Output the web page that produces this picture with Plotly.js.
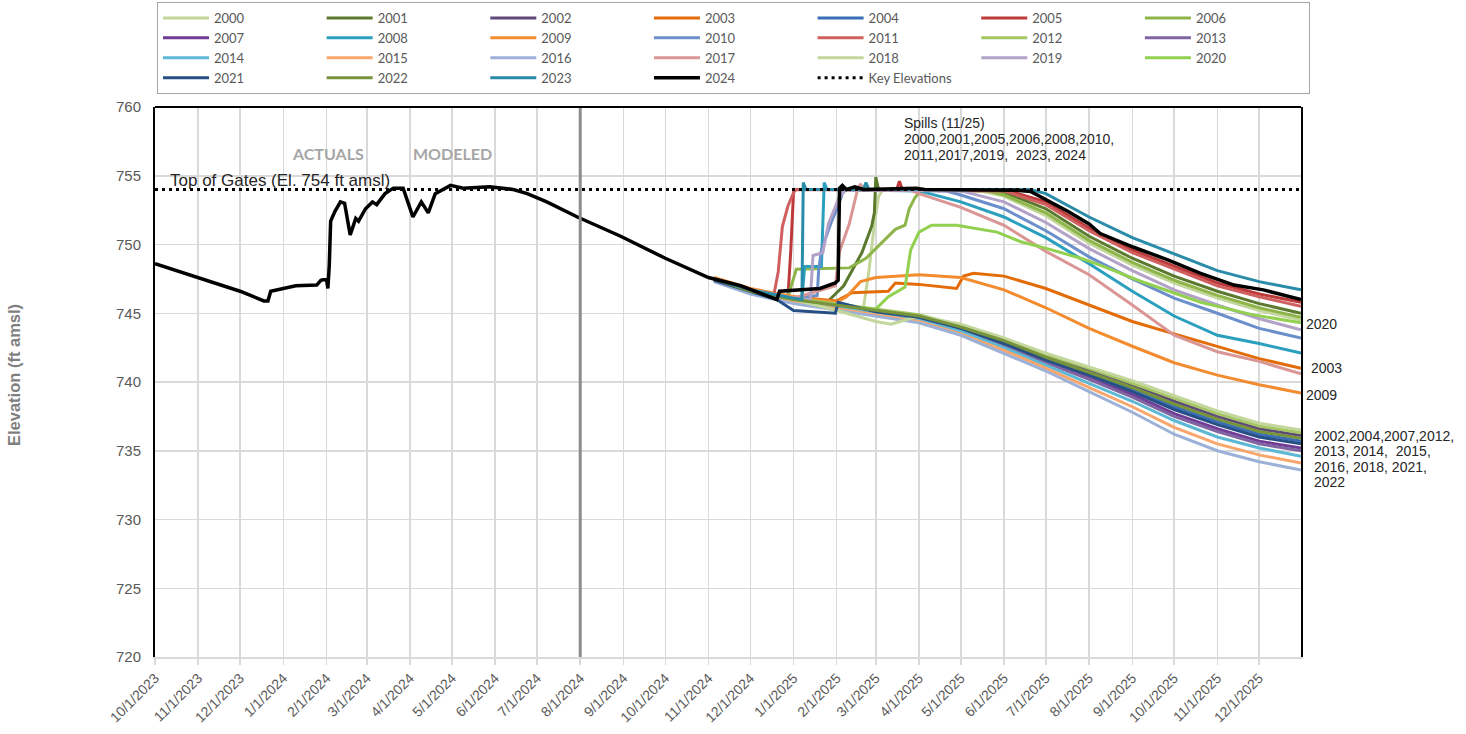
<!DOCTYPE html>
<html><head><meta charset="utf-8">
<script src="https://cdn.plot.ly/plotly-3.0.1.min.js"></script>
<style>html,body{margin:0;padding:0;background:#fff}#chart{width:1466px;height:734px}</style>
</head><body><div id="chart"></div>
<script>
// ---------- DATA ----------
const years = ['2000','2001','2002','2003','2004','2005','2006','2007','2008','2009','2010','2011','2012','2013','2014','2015','2016','2017','2018','2019','2020','2021','2022','2023','2024'];

const lowDates = ['2024-11-05','2024-12-01','2025-01-01','2025-02-01','2025-03-01','2025-04-01','2025-05-01','2025-06-01','2025-07-01','2025-08-01','2025-09-01','2025-10-01','2025-11-01','2025-12-01','2025-12-31'];

const d2000 = ['2024-11-05','2024-12-01','2025-01-01','2025-02-01','2025-02-20','2025-02-24','2025-02-28','2025-03-03','2025-03-06','2025-05-15','2025-06-01','2025-07-01','2025-08-01','2025-09-01','2025-10-01','2025-11-01','2025-12-01','2025-12-31'];
const v2000 = [747.5,746.6,746.0,745.5,745.3,748.0,751.5,753.5,754.0,753.9,753.5,752.1,750.1,748.5,747.2,746.1,745.2,744.5];

const d2001 = ['2024-11-05','2024-12-01','2025-01-01','2025-01-25','2025-02-06','2025-02-19','2025-02-26','2025-02-28','2025-03-01','2025-03-03','2025-05-25','2025-06-01','2025-07-01','2025-08-01','2025-09-01','2025-10-01','2025-11-01','2025-12-01','2025-12-31'];
const v2001 = [747.5,746.7,746.1,745.8,747.0,749.4,751.3,752.3,754.9,754.0,754.0,753.8,752.6,750.6,749.0,747.7,746.6,745.7,745.0];

const v2002 = [747.5,746.7,746.0,745.6,745.2,744.8,744.1,743.1,741.9,740.9,739.8,738.6,737.5,736.6,736.1];

const d2003 = ['2024-11-05','2024-12-01','2025-01-01','2025-02-01','2025-02-12','2025-03-10','2025-03-15','2025-04-01','2025-04-28','2025-05-03','2025-05-10','2025-06-01','2025-07-01','2025-08-01','2025-09-01','2025-10-01','2025-11-01','2025-12-01','2025-12-31'];
const v2003 = [747.5,746.7,746.2,745.9,746.5,746.6,747.2,747.1,746.8,747.7,747.9,747.7,746.8,745.6,744.4,743.5,742.6,741.7,741.0];

const v2004 = [747.4,746.6,746.0,745.6,745.2,744.7,744.0,742.9,741.7,740.6,739.5,738.2,737.1,736.2,735.7];

const d2005 = ['2024-11-05','2024-12-01','2024-12-28','2024-12-30','2025-01-01','2025-01-03','2025-03-16','2025-03-18','2025-03-20','2025-06-01','2025-07-01','2025-08-01','2025-09-01','2025-10-01','2025-11-01','2025-12-01','2025-12-31'];
const v2005 = [747.5,746.7,746.2,749.5,753.8,754.0,754.0,754.6,754.0,754.0,753.1,751.2,749.6,748.4,747.2,746.4,745.8];

const d2006 = ['2024-11-05','2024-12-01','2024-12-28','2025-01-03','2025-02-10','2025-02-22','2025-03-03','2025-03-15','2025-03-22','2025-03-25','2025-03-29','2025-04-03','2025-05-20','2025-06-01','2025-07-01','2025-08-01','2025-09-01','2025-10-01','2025-11-01','2025-12-01','2025-12-31'];
const v2006 = [747.5,746.7,746.2,748.2,748.3,749.0,749.9,751.1,751.4,752.6,753.4,754.0,753.9,753.6,752.3,750.3,748.7,747.4,746.3,745.4,744.7];

const v2007 = [747.4,746.6,745.9,745.5,745.1,744.6,743.8,742.7,741.5,740.3,739.1,737.7,736.6,735.7,735.2];

const d2008 = ['2024-11-05','2024-12-01','2025-01-01','2025-01-07','2025-01-09','2025-01-21','2025-01-23','2025-01-25','2025-04-01','2025-05-01','2025-06-01','2025-07-01','2025-08-01','2025-09-01','2025-10-01','2025-11-01','2025-12-01','2025-12-31'];
const v2008 = [747.5,746.7,746.1,746.0,748.4,748.4,754.5,754.0,753.9,753.1,752.0,750.5,748.6,746.6,744.8,743.4,742.8,742.1];

const d2009 = ['2024-11-05','2024-12-01','2025-01-01','2025-02-01','2025-02-08','2025-02-18','2025-03-01','2025-04-01','2025-05-01','2025-06-01','2025-07-01','2025-08-01','2025-09-01','2025-10-01','2025-11-01','2025-12-01','2025-12-31'];
const v2009 = [747.6,746.8,746.2,745.8,746.2,747.3,747.6,747.8,747.6,746.7,745.4,743.9,742.6,741.4,740.5,739.8,739.2];

const d2010 = ['2024-11-05','2024-12-01','2025-01-01','2025-01-18','2025-01-19','2025-01-21','2025-01-28','2025-02-02','2025-02-06','2025-04-20','2025-05-01','2025-06-01','2025-07-01','2025-08-01','2025-09-01','2025-10-01','2025-11-01','2025-12-01','2025-12-31'];
const v2010 = [747.5,746.7,746.1,746.3,748.1,749.6,751.6,752.8,754.0,753.9,753.6,752.6,751.0,749.1,747.5,746.1,745.0,743.9,743.2];

const d2011 = ['2024-11-05','2024-12-01','2024-12-18','2024-12-21','2024-12-24','2024-12-28','2025-01-02','2025-06-01','2025-07-01','2025-08-01','2025-09-01','2025-10-01','2025-11-01','2025-12-01','2025-12-31'];
const v2011 = [747.5,746.7,746.4,748.0,751.3,752.8,754.0,753.9,752.9,751.0,749.4,748.2,747.0,746.2,745.5];

const v2012 = [747.5,746.7,746.1,745.7,745.3,744.9,744.1,743.1,742.0,741.0,739.9,738.8,737.7,736.8,736.3];
const v2013 = [747.4,746.5,745.9,745.4,745.0,744.6,743.8,742.6,741.4,740.2,738.9,737.5,736.4,735.5,735.0];
const v2014 = [747.4,746.5,745.8,745.4,745.0,744.5,743.7,742.5,741.2,739.9,738.6,737.2,736.0,735.2,734.6];
const v2015 = [747.3,746.5,745.8,745.3,744.9,744.4,743.5,742.3,741.0,739.6,738.2,736.7,735.5,734.7,734.1];
const v2016 = [747.3,746.4,745.7,745.2,744.8,744.3,743.4,742.1,740.8,739.3,737.8,736.2,735.0,734.2,733.6];

const d2017 = ['2024-11-05','2024-12-01','2025-01-01','2025-01-31','2025-02-03','2025-02-10','2025-02-14','2025-02-16','2025-02-18','2025-02-20','2025-03-25','2025-04-01','2025-05-01','2025-06-01','2025-07-01','2025-08-01','2025-09-01','2025-10-01','2025-11-01','2025-12-01','2025-12-31'];
const v2017 = [747.5,746.7,746.1,747.0,749.5,751.5,753.2,754.0,754.4,754.0,754.0,753.7,752.7,751.4,749.5,747.8,745.6,743.4,742.2,741.5,740.6];

const d2018 = ['2024-11-05','2024-12-01','2025-01-01','2025-02-01','2025-03-01','2025-03-12','2025-04-01','2025-05-01','2025-06-01','2025-07-01','2025-08-01','2025-09-01','2025-10-01','2025-11-01','2025-12-01','2025-12-31'];
const v2018 = [747.5,746.6,746.0,745.2,744.4,744.2,744.8,744.2,743.2,742.1,741.1,740.1,739.0,737.9,737.0,736.5];

const d2019 = ['2024-11-05','2024-12-01','2025-01-01','2025-01-13','2025-01-15','2025-01-22','2025-01-26','2025-02-03','2025-02-08','2025-05-01','2025-06-01','2025-07-01','2025-08-01','2025-09-01','2025-10-01','2025-11-01','2025-12-01','2025-12-31'];
const v2019 = [747.5,746.7,746.1,746.0,749.2,749.4,751.5,753.5,754.0,753.9,753.1,751.6,749.7,748.1,746.7,745.6,744.6,743.8];

const d2020 = ['2024-11-05','2024-12-01','2025-01-01','2025-02-01','2025-03-01','2025-03-10','2025-03-22','2025-03-26','2025-04-01','2025-04-10','2025-04-28','2025-05-27','2025-06-13','2025-07-02','2025-07-26','2025-08-09','2025-09-05','2025-10-20','2025-11-26','2025-12-31'];
const v2020 = [747.5,746.6,746.0,745.6,745.3,746.2,746.9,749.6,750.9,751.4,751.4,750.9,750.2,749.7,749.0,748.5,747.4,745.8,744.9,744.3];

const d2021 = ['2024-11-05','2024-12-01','2024-12-20','2025-01-01','2025-01-31','2025-02-02','2025-03-01','2025-04-01','2025-05-01','2025-06-01','2025-07-01','2025-08-01','2025-09-01','2025-10-01','2025-11-01','2025-12-01','2025-12-31'];
const v2021 = [747.4,746.6,746.0,745.2,745.0,745.8,745.1,744.7,743.9,742.8,741.6,740.5,739.3,738.0,736.9,736.0,735.5];

const v2022 = [747.5,746.6,746.0,745.6,745.2,744.8,744.0,743.0,741.8,740.7,739.6,738.4,737.3,736.4,735.9];

const d2023 = ['2024-11-05','2024-12-01','2025-01-01','2025-01-07','2025-01-08','2025-01-10','2025-02-20','2025-02-22','2025-02-24','2025-06-20','2025-07-01','2025-08-01','2025-09-01','2025-10-01','2025-11-01','2025-12-01','2025-12-31'];
const v2023 = [747.5,746.7,746.1,746.0,754.5,754.0,754.0,754.5,754.0,754.0,753.7,752.0,750.5,749.3,748.1,747.3,746.7];

const d2024 = ['2023-10-01','2023-11-01','2023-12-01','2023-12-18','2023-12-21','2023-12-23','2024-01-01','2024-01-10','2024-01-25','2024-01-28','2024-02-01','2024-02-02','2024-02-03','2024-02-04','2024-02-07','2024-02-11','2024-02-14','2024-02-18','2024-02-22','2024-02-24','2024-02-29','2024-03-05','2024-03-08','2024-03-14','2024-03-20','2024-03-27','2024-04-03','2024-04-09','2024-04-14','2024-04-19','2024-04-30','2024-05-09','2024-05-28','2024-06-14','2024-06-24','2024-07-08','2024-07-30','2024-08-30','2024-10-01','2024-11-01','2024-11-24','2024-12-20','2024-12-22','2025-01-20','2025-01-31','2025-02-02','2025-02-03','2025-02-05','2025-02-08','2025-02-14','2025-02-20','2025-03-30','2025-04-05','2025-06-10','2025-06-20','2025-07-17','2025-08-01','2025-08-09','2025-09-02','2025-09-26','2025-10-20','2025-11-13','2025-12-04','2025-12-31'];
const v2024 = [748.6,747.6,746.6,745.9,745.9,746.6,746.8,747.0,747.05,747.4,747.5,746.8,748.5,751.7,752.4,753.1,753.0,750.7,751.9,751.7,752.6,753.1,752.9,753.7,754.1,754.1,752.0,753.1,752.3,753.7,754.3,754.1,754.2,754.0,753.7,753.1,752.0,750.6,749.0,747.6,747.0,746.0,746.6,746.8,747.2,747.4,754.1,754.3,754.0,754.2,754.0,754.1,754.0,753.95,753.85,752.4,751.5,750.8,749.8,748.9,747.9,747.05,746.7,746.0];

const keyDates = ['2023-10-01','2025-12-31'];
const keyElev = [754, 754];
const dividerDate = '2024-08-01';

const spillLines = ['Spills (11/25)', '2000,2001,2005,2006,2008,2010,', '2011,2017,2019,  2023, 2024'];
const lowLabelLines = ['2002,2004,2007,2012,', '2013, 2014,  2015,', '2016, 2018, 2021,', '2022'];

const seriesDates = {
  '2000': d2000, '2001': d2001, '2002': lowDates, '2003': d2003, '2004': lowDates, '2005': d2005,
  '2006': d2006, '2007': lowDates, '2008': d2008, '2009': d2009, '2010': d2010, '2011': d2011,
  '2012': lowDates, '2013': lowDates, '2014': lowDates, '2015': lowDates, '2016': lowDates,
  '2017': d2017, '2018': d2018, '2019': d2019, '2020': d2020, '2021': d2021, '2022': lowDates,
  '2023': d2023, '2024': d2024
};
const seriesValues = {
  '2000': v2000, '2001': v2001, '2002': v2002, '2003': v2003, '2004': v2004, '2005': v2005,
  '2006': v2006, '2007': v2007, '2008': v2008, '2009': v2009, '2010': v2010, '2011': v2011,
  '2012': v2012, '2013': v2013, '2014': v2014, '2015': v2015, '2016': v2016,
  '2017': v2017, '2018': v2018, '2019': v2019, '2020': v2020, '2021': v2021, '2022': v2022,
  '2023': v2023, '2024': v2024
};

// ---------- STYLE ----------
const colors = {
  '2000':'#C3D69B','2001':'#5B7A2E','2002':'#604A7B','2003':'#E36C09','2004':'#3A6FB8',
  '2005':'#BE3A3A','2006':'#8DB548','2007':'#703C96','2008':'#2AA0BE','2009':'#F38B2F',
  '2010':'#6A8FCB','2011':'#D06060','2012':'#A5C663','2013':'#8064A2','2014':'#5DB8D5',
  '2015':'#F9A66C','2016':'#9CB1D8','2017':'#D99694','2018':'#C3D69B','2019':'#B3A2C7',
  '2020':'#92D050','2021':'#264F85','2022':'#77933C','2023':'#2A8CA8','2024':'#000000'
};

const traces = years.map(y => ({
  type: 'scatter', mode: 'lines', name: y,
  x: seriesDates[y], y: seriesValues[y],
  line: { color: colors[y], width: y === '2024' ? 3.5 : 3 },
  hoverinfo: 'skip'
}));
traces.push({
  type: 'scatter', mode: 'lines', name: 'Key Elevations',
  x: keyDates, y: keyElev,
  line: { color: '#000000', width: 3, dash: '3px,4px' },
  hoverinfo: 'skip'
});

const W = 1466, H = 734;
const M = { l: 155, r: 165, t: 107, b: 77, autoexpand: false };
const pw = W - M.l - M.r, ph = H - M.t - M.b;
const px = X => (X - M.l) / pw;        // pixel -> paper x
const py = Y => (H - M.b - Y) / ph;    // pixel -> paper y

const arial = 'Arial, "Liberation Sans", sans-serif';
const calibri = 'Lato, "Open Sans", sans-serif';
const txt = { family: arial, size: 14, color: '#262626' };

const annotations = [
  { text: 'ACTUALS', xref: 'paper', yref: 'paper', x: px(328), y: py(153), showarrow: false,
    xanchor: 'center', yanchor: 'middle', font: { family: calibri, size: 16, color: '#A6A6A6', weight: 'bold' } },
  { text: 'MODELED', xref: 'paper', yref: 'paper', x: px(452), y: py(153), showarrow: false,
    xanchor: 'center', yanchor: 'middle', font: { family: calibri, size: 16, color: '#A6A6A6', weight: 'bold' } },
  { text: 'Top of Gates (El. 754 ft amsl)', xref: 'paper', yref: 'paper', x: px(168), y: py(180), showarrow: false,
    xanchor: 'left', yanchor: 'middle', font: { family: arial, size: 17, color: '#262626' } },
  { text: '2020', xref: 'paper', yref: 'paper', x: px(1304), y: py(324), showarrow: false,
    xanchor: 'left', yanchor: 'middle', font: txt },
  { text: '2003', xref: 'paper', yref: 'paper', x: px(1309), y: py(368), showarrow: false,
    xanchor: 'left', yanchor: 'middle', font: txt },
  { text: '2009', xref: 'paper', yref: 'paper', x: px(1304), y: py(395), showarrow: false,
    xanchor: 'left', yanchor: 'middle', font: txt },
  { text: 'Elevation (ft amsl)', xref: 'paper', yref: 'paper', x: px(14), y: py(375), showarrow: false,
    textangle: -90, xanchor: 'center', yanchor: 'middle',
    font: { family: arial, size: 16.5, color: '#7F7F7F', weight: 'bold' } }
];
spillLines.forEach((t, i) => annotations.push({
  text: t, xref: 'paper', yref: 'paper', x: px(902), y: py(123 + 16 * i), showarrow: false,
  xanchor: 'left', yanchor: 'middle', font: txt
}));
lowLabelLines.forEach((t, i) => annotations.push({
  text: t, xref: 'paper', yref: 'paper', x: px(1312), y: py(436 + 15.4 * i), showarrow: false,
  xanchor: 'left', yanchor: 'middle', font: txt
}));

const layout = {
  width: W, height: H, margin: M,
  paper_bgcolor: '#ffffff', plot_bgcolor: '#ffffff',
  showlegend: true,
  legend: {
    orientation: 'h', x: px(157), y: py(2), xanchor: 'left', yanchor: 'top',
    entrywidthmode: 'fraction', entrywidth: 0.1428,
    itemwidth: 46, tracegroupgap: 0,
    bgcolor: '#ffffff', bordercolor: '#A6A6A6', borderwidth: 1,
    font: { family: calibri, size: 13, color: '#595959' },
    traceorder: 'normal'
  },
  xaxis: {
    type: 'date', range: ['2023-10-01', '2025-12-31'],
    tick0: '2023-10-01', dtick: 'M1', tickformat: '%-m/%-d/%Y', tickangle: -45,
    ticks: 'outside', ticklen: 6, tickcolor: '#D9D9D9', tickwidth: 1.5,
    showgrid: true, gridcolor: '#D9D9D9', gridwidth: 1.5,
    showline: true, linecolor: '#D9D9D9', linewidth: 1.5,
    tickfont: { family: arial, size: 14, color: '#595959' },
    zeroline: false, fixedrange: true
  },
  yaxis: {
    range: [720, 760], dtick: 5, tick0: 720,
    showgrid: true, gridcolor: '#D9D9D9', gridwidth: 1.5,
    showline: true, mirror: true, linecolor: '#000000', linewidth: 2,
    ticks: '', ticklabelstandoff: 9,
    tickfont: { family: arial, size: 15, color: '#595959' },
    zeroline: false, fixedrange: true
  },
  shapes: [
    { type: 'line', xref: 'x', yref: 'paper', x0: dividerDate, x1: dividerDate, y0: 0, y1: 1,
      line: { color: '#8C8C8C', width: 3 }, layer: 'above' },
    { type: 'line', xref: 'paper', yref: 'paper', x0: 0, x1: 1, y0: 1, y1: 1,
      line: { color: '#000000', width: 2 } }
  ],
  annotations: annotations
};

Plotly.newPlot('chart', traces, layout, { staticPlot: true, displayModeBar: false });
</script></body></html>
